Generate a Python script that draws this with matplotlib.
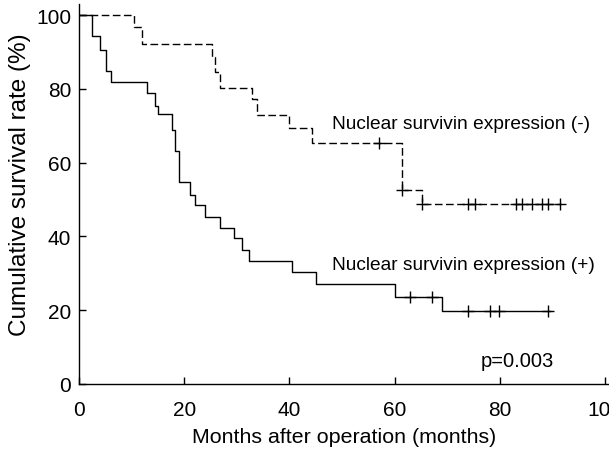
import numpy as np
import matplotlib
matplotlib.use("Agg")
import matplotlib.pyplot as plt

plt.rcParams['font.family'] = ['Liberation Sans', 'DejaVu Sans']

# Nuclear survivin expression (-) : dashed
neg_times = [0, 10.4, 12.0, 25.3, 25.9, 26.9, 32.9, 33.9, 40.0, 44.3, 61.4, 65.2]
neg_surv = [100, 96.7, 92.1, 88.7, 84.5, 80.1, 77.2, 72.9, 69.3, 65.2, 52.6, 48.7]
neg_end = 91.6
neg_censor = [57.1, 61.4, 65.2, 74.0, 75.3, 83.1, 84.3, 86.2, 88.1, 89.2, 91.4]

# Nuclear survivin expression (+) : solid
pos_times = [0, 2.4, 3.9, 5.2, 6.1, 13.0, 14.4, 15.1, 17.6, 18.3, 19.1, 21.1, 22.0,
             24.0, 26.9, 29.4, 30.9, 32.4, 40.4, 45.1, 60.1, 69.1]
pos_surv = [100, 94.2, 90.5, 84.9, 81.9, 78.8, 75.4, 73.2, 68.9, 63.2, 54.7, 51.2, 48.5,
            45.4, 42.3, 39.5, 36.4, 33.3, 30.3, 27.1, 23.7, 19.7]
pos_end = 89.6
pos_censor = [62.9, 67.2, 74.0, 78.1, 79.9, 89.2]

x_ticks = [0, 20, 40, 60, 80, 100]
y_ticks = [0, 20, 40, 60, 80, 100]

W, H = 609, 460
fig = plt.figure(figsize=(W / 100, H / 100), dpi=100)
ax = fig.add_axes([79 / W, 75 / H, (W - 79) / W, 380 / H])


def step_xy(times, surv, end):
    x = list(times) + [end]
    y = list(surv) + [surv[-1]]
    return x, y


def surv_at(times, surv, t):
    idx = np.searchsorted(times, t, side='right') - 1
    return surv[idx]


nx, ny = step_xy(neg_times, neg_surv, neg_end)
ax.step(nx, ny, where='post', color='black', lw=1.0, linestyle=(0, (5.5, 2.5)))
ax.plot(neg_censor, [surv_at(neg_times, neg_surv, t) for t in neg_censor],
        linestyle='none', marker='+', color='black', ms=8, mew=1.0)

px, py = step_xy(pos_times, pos_surv, pos_end)
ax.step(px, py, where='post', color='black', lw=1.0)
ax.plot(pos_censor, [surv_at(pos_times, pos_surv, t) for t in pos_censor],
        linestyle='none', marker='+', color='black', ms=8, mew=1.0)

ax.set_xlim(0, 100.76)
ax.set_ylim(0, 103)
ax.set_xticks(x_ticks)
ax.set_yticks(y_ticks)
ax.spines['top'].set_visible(False)
ax.spines['right'].set_visible(False)
for s in ('left', 'bottom'):
    ax.spines[s].set_linewidth(1.0)
ax.tick_params(direction='in', length=5, width=1.0, labelsize=15)
ax.tick_params(axis='x', pad=11.5)
ax.tick_params(axis='y', pad=5.5)

ax.set_xlabel('Months after operation (months)', fontsize=15.4, labelpad=6)
ax.set_ylabel('Cumulative survival rate (%)', fontsize=17.5, labelpad=4)
ax.yaxis.set_label_coords(-(79 - 31) / (W - 79), (385 - 185) / 380)

ax.text(48.1, 70.7, 'Nuclear survivin expression (-)', fontsize=13.8, va='center', ha='left')
ax.text(48.1, 32.5, 'Nuclear survivin expression (+)', fontsize=13.8, va='center', ha='left')
ax.text(76.4, 6.5, 'p=0.003', fontsize=14.5, va='center', ha='left')

fig.savefig('out.png', dpi=100)
